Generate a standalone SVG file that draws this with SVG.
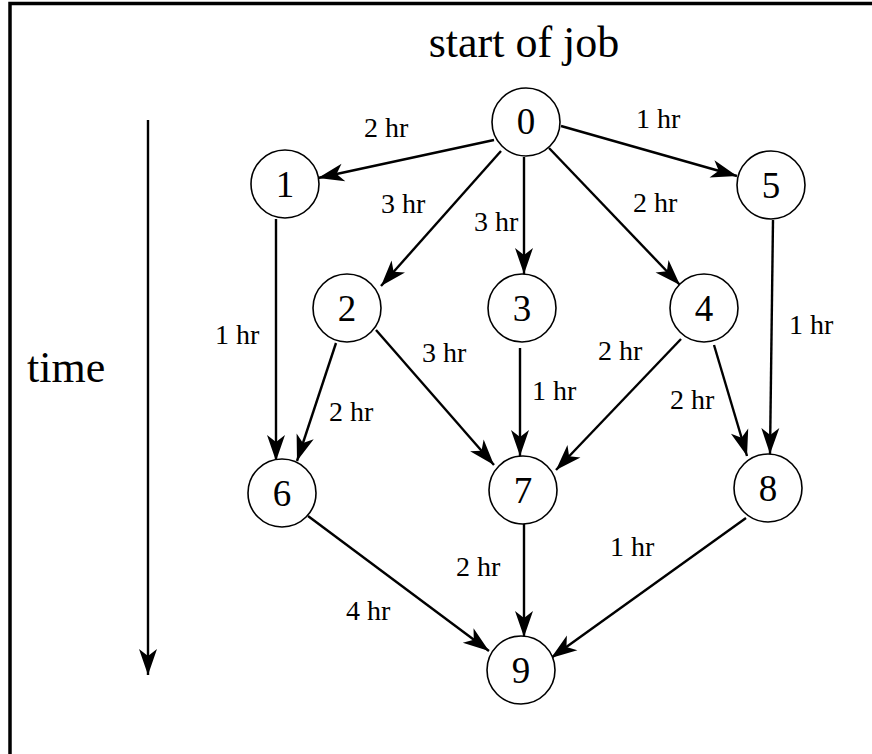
<svg xmlns="http://www.w3.org/2000/svg" width="872" height="754" viewBox="0 0 872 754">
  <style>
    .frame { stroke: #000; stroke-width: 3.5; fill: none; }
    .node circle { fill: #fff; stroke: #000; stroke-width: 1.6; }
    .node text { font-family: "Liberation Serif", "Times New Roman", serif; font-size: 37px; text-anchor: middle; fill: #000; }
    .edge { stroke: #000; stroke-width: 2.4; fill: none; marker-end: url(#ah); }
    .lbl { font-family: "Liberation Serif", "Times New Roman", serif; font-size: 28px; fill: #000; }
    .big { font-family: "Liberation Serif", "Times New Roman", serif; font-size: 44px; fill: #000; }
  </style>
  <defs>
    <marker id="ah" markerUnits="userSpaceOnUse" markerWidth="28" markerHeight="20" viewBox="-27 -10 28 20" refX="0" refY="0" orient="auto">
      <path d="M0,0 L-26,-9 L-19,0 L-26,9 Z" fill="#000"/>
    </marker>
  </defs>

  <rect width="872" height="754" fill="#fff"/>
  <!-- page frame: top and left rules -->
  <path class="frame" d="M10,754 V3.5 H872"/>

  <text class="big" x="524" y="57" text-anchor="middle">start of job</text>
  <text class="big" x="27" y="382" font-size="46">time</text>

  <g id="connectors">
    <line class="edge" x1="148" y1="120" x2="148" y2="675"/>
    <line class="edge" x1="494" y1="140" x2="318" y2="178"/>
    <line class="edge" x1="561" y1="126" x2="737" y2="176"/>
    <line class="edge" x1="501" y1="151" x2="381" y2="286"/>
    <line class="edge" x1="524" y1="157" x2="524" y2="274"/>
    <line class="edge" x1="549" y1="148" x2="680" y2="285"/>
    <line class="edge" x1="276" y1="219" x2="276" y2="461"/>
    <line class="edge" x1="336" y1="343" x2="297" y2="461"/>
    <line class="edge" x1="376" y1="330" x2="494" y2="465"/>
    <line class="edge" x1="520" y1="348" x2="520" y2="456"/>
    <line class="edge" x1="681" y1="339" x2="556" y2="470"/>
    <line class="edge" x1="714" y1="345" x2="747" y2="456"/>
    <line class="edge" x1="773" y1="220" x2="770" y2="454"/>
    <line class="edge" x1="308" y1="516" x2="489" y2="651"/>
    <line class="edge" x1="524" y1="523" x2="524" y2="637"/>
    <line class="edge" x1="746" y1="518" x2="551" y2="658"/>

    <text class="lbl" x="364" y="137">2 hr</text>
    <text class="lbl" x="636" y="128">1 hr</text>
    <text class="lbl" x="381" y="213">3 hr</text>
    <text class="lbl" x="474" y="231">3 hr</text>
    <text class="lbl" x="633" y="212">2 hr</text>
    <text class="lbl" x="215" y="344">1 hr</text>
    <text class="lbl" x="422" y="362">3 hr</text>
    <text class="lbl" x="329" y="421">2 hr</text>
    <text class="lbl" x="532" y="400">1 hr</text>
    <text class="lbl" x="598" y="360">2 hr</text>
    <text class="lbl" x="670" y="409">2 hr</text>
    <text class="lbl" x="789" y="334">1 hr</text>
    <text class="lbl" x="456" y="576">2 hr</text>
    <text class="lbl" x="610" y="556">1 hr</text>
    <text class="lbl" x="346" y="620">4 hr</text>
  </g>

  <g id="node0" class="node"><circle cx="526" cy="122" r="34"/><text x="526" y="134">0</text></g>
  <g id="node1" class="node"><circle cx="285" cy="184" r="34"/><text x="285" y="197">1</text></g>
  <g id="node2" class="node"><circle cx="347" cy="308" r="34"/><text x="347" y="321">2</text></g>
  <g id="node3" class="node"><circle cx="522" cy="308" r="34"/><text x="522" y="321">3</text></g>
  <g id="node4" class="node"><circle cx="704" cy="308" r="34"/><text x="704" y="321">4</text></g>
  <g id="node5" class="node"><circle cx="771" cy="185" r="34"/><text x="771" y="198">5</text></g>
  <g id="node6" class="node"><circle cx="282" cy="493" r="34"/><text x="282" y="506">6</text></g>
  <g id="node7" class="node"><circle cx="523" cy="490" r="34"/><text x="523" y="503">7</text></g>
  <g id="node8" class="node"><circle cx="768" cy="488" r="34"/><text x="768" y="501">8</text></g>
  <g id="node9" class="node"><circle cx="521" cy="670" r="34"/><text x="521" y="683">9</text></g>
</svg>
